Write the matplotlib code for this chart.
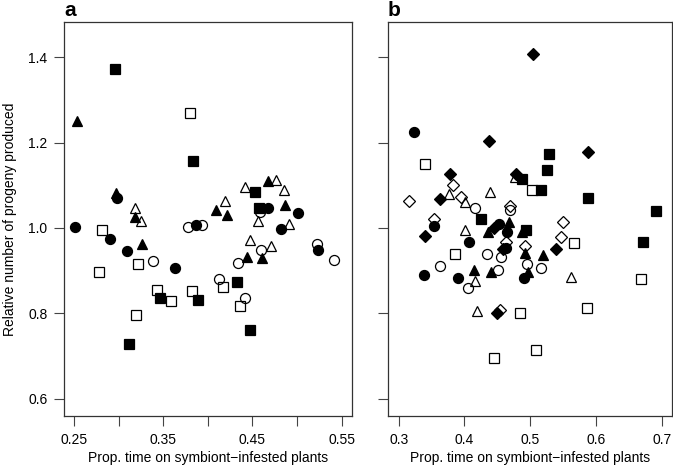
import matplotlib
matplotlib.use("Agg")
import matplotlib.pyplot as plt

plt.rcParams['font.family'] = ['Liberation Sans', 'DejaVu Sans']

# ---- panel a data (x = prop. time on infested plants, y = relative progeny) ----
a_fcirc_x = [0.251, 0.2906, 0.298, 0.3097, 0.3637, 0.3872, 0.4674, 0.5009, 0.4823, 0.5233]
a_fcirc_y = [1.002, 0.975, 1.069, 0.945, 0.906, 1.008, 1.046, 1.034, 0.998, 0.949]
a_ocirc_x = [0.3387, 0.3772, 0.3935, 0.4588, 0.4599, 0.4338, 0.5226, 0.5416, 0.4126, 0.4413]
a_ocirc_y = [0.922, 1.002, 1.008, 1.037, 0.949, 0.919, 0.963, 0.924, 0.881, 0.837]
a_ftri_x = [0.253, 0.2975, 0.318, 0.3257, 0.4673, 0.4096, 0.4215, 0.4866, 0.4608, 0.4439]
a_ftri_y = [1.251, 1.082, 1.025, 0.962, 1.110, 1.041, 1.031, 1.053, 0.929, 0.931]
a_otri_x = [0.318, 0.3246, 0.4413, 0.476, 0.4849, 0.4189, 0.4563, 0.4905, 0.4711, 0.4469]
a_otri_y = [1.047, 1.016, 1.096, 1.1115, 1.089, 1.063, 1.017, 1.010, 0.957, 0.973]
a_fsq_x = [0.2959, 0.3828, 0.4532, 0.4573, 0.3462, 0.3884, 0.3115, 0.4327, 0.4477]
a_fsq_y = [1.373, 1.157, 1.085, 1.047, 0.835, 0.832, 0.729, 0.873, 0.762]
a_osq_x = [0.3798, 0.2817, 0.3216, 0.2783, 0.3432, 0.3585, 0.3817, 0.3194, 0.4170, 0.4365]
a_osq_y = [1.269, 0.996, 0.916, 0.896, 0.855, 0.830, 0.853, 0.796, 0.863, 0.818]

# ---- panel b data ----
b_fcirc_x = [0.3228, 0.3537, 0.4527, 0.4654, 0.4639, 0.4065, 0.3385, 0.3903, 0.4908]
b_fcirc_y = [1.2235, 1.004, 1.009, 0.991, 0.953, 0.967, 0.889, 0.884, 0.884]
b_ocirc_x = [0.4157, 0.470, 0.4563, 0.4944, 0.435, 0.3624, 0.4055, 0.4512, 0.5157]
b_ocirc_y = [1.047, 1.043, 0.933, 0.915, 0.940, 0.912, 0.860, 0.902, 0.906]
b_ftri_x = [0.4361, 0.4674, 0.4873, 0.4918, 0.4959, 0.4146, 0.44, 0.5197]
b_ftri_y = [0.990, 1.014, 0.990, 0.941, 0.896, 0.902, 0.896, 0.937]
b_otri_x = [0.3761, 0.4005, 0.439, 0.4766, 0.4015, 0.4157, 0.4198, 0.5628]
b_otri_y = [1.079, 1.061, 1.085, 1.119, 0.996, 0.875, 0.806, 0.886]
b_fsq_x = [0.4258, 0.4868, 0.5288, 0.5257, 0.5157, 0.5881, 0.6912, 0.6709, 0.4934]
b_fsq_y = [1.020, 1.114, 1.174, 1.135, 1.090, 1.069, 1.039, 0.967, 0.995]
b_osq_x = [0.3396, 0.502, 0.5664, 0.3852, 0.4842, 0.4451, 0.5085, 0.5857, 0.6679]
b_osq_y = [1.149, 1.090, 0.965, 0.939, 0.800, 0.696, 0.715, 0.813, 0.881]
b_fdia_x = [0.5045, 0.437, 0.3776, 0.3634, 0.4791, 0.5881, 0.3396, 0.4446, 0.4583, 0.539, 0.4502]
b_fdia_y = [1.406, 1.204, 1.126, 1.067, 1.126, 1.178, 0.982, 0.999, 0.950, 0.951, 0.800]
b_odia_x = [0.3827, 0.3954, 0.3152, 0.469, 0.3537, 0.4639, 0.4918, 0.5501, 0.5466, 0.4537]
b_odia_y = [1.100, 1.072, 1.063, 1.051, 1.020, 0.967, 0.957, 1.014, 0.980, 0.808]

a_xticks = [0.25, 0.30, 0.35, 0.40, 0.45, 0.50, 0.55]
a_xlabels = ['0.25', '', '0.35', '', '0.45', '', '0.55']
b_xticks = [0.3, 0.4, 0.5, 0.6, 0.7]
yticks = [0.6, 0.8, 1.0, 1.2, 1.4]

W, H = 673, 467
fig = plt.figure(figsize=(W / 100, H / 100), dpi=100)

def box(l, r, t, b):
    return [l / W, 1 - b / H, (r - l) / W, (b - t) / H]

ax1 = fig.add_axes(box(64, 352, 22, 416))
ax2 = fig.add_axes(box(388, 672, 22, 416))

def pts(ax, x, y, m, filled, ms):
    ax.plot(x, y, linestyle='none', marker=m, markersize=ms,
            markerfacecolor='black' if filled else 'none',
            markeredgecolor='black', markeredgewidth=0.9)

pts(ax1, a_osq_x, a_osq_y, 's', False, 6.5)
pts(ax1, a_ocirc_x, a_ocirc_y, 'o', False, 7.2)
pts(ax1, a_otri_x, a_otri_y, '^', False, 7.8)
pts(ax1, a_fsq_x, a_fsq_y, 's', True, 6.5)
pts(ax1, a_fcirc_x, a_fcirc_y, 'o', True, 7.2)
pts(ax1, a_ftri_x, a_ftri_y, '^', True, 7.8)

pts(ax2, b_osq_x, b_osq_y, 's', False, 6.5)
pts(ax2, b_ocirc_x, b_ocirc_y, 'o', False, 7.2)
pts(ax2, b_otri_x, b_otri_y, '^', False, 7.8)
pts(ax2, b_odia_x, b_odia_y, 'D', False, 6.2)
pts(ax2, b_fsq_x, b_fsq_y, 's', True, 6.5)
pts(ax2, b_fcirc_x, b_fcirc_y, 'o', True, 7.2)
pts(ax2, b_ftri_x, b_ftri_y, '^', True, 7.8)
pts(ax2, b_fdia_x, b_fdia_y, 'D', True, 6.2)

ax1.set_xlim(0.2388, 0.5615)
ax2.set_xlim(0.2837, 0.7157)
for ax in (ax1, ax2):
    ax.set_ylim(0.560, 1.482)
    ax.set_yticks(yticks)
    for s in ax.spines.values():
        s.set_color('#333333')
        s.set_linewidth(0.9)
    ax.tick_params(direction='out', length=7, width=0.8, color='#444444',
                   labelsize=10, pad=5)
    ax.set_xlabel('Prop. time on symbiont\u2212infested plants', fontsize=10, labelpad=3)

ax1.set_xticks(a_xticks)
ax1.set_xticklabels(a_xlabels)
ax1.set_yticklabels(['0.6', '0.8', '1.0', '1.2', '1.4'])
ax1.set_ylabel('Relative number of progeny produced', fontsize=10, labelpad=8)
ax2.set_xticks(b_xticks)
ax2.set_xticklabels(['0.3', '0.4', '0.5', '0.6', '0.7'])
ax2.set_yticklabels([])

fig.text(64 / W, 1 - 11 / H, 'a', fontsize=15, fontweight='bold', ha='left', va='center')
fig.text(388 / W, 1 - 11 / H, 'b', fontsize=15, fontweight='bold', ha='left', va='center')

fig.savefig('out.png', dpi=100)
